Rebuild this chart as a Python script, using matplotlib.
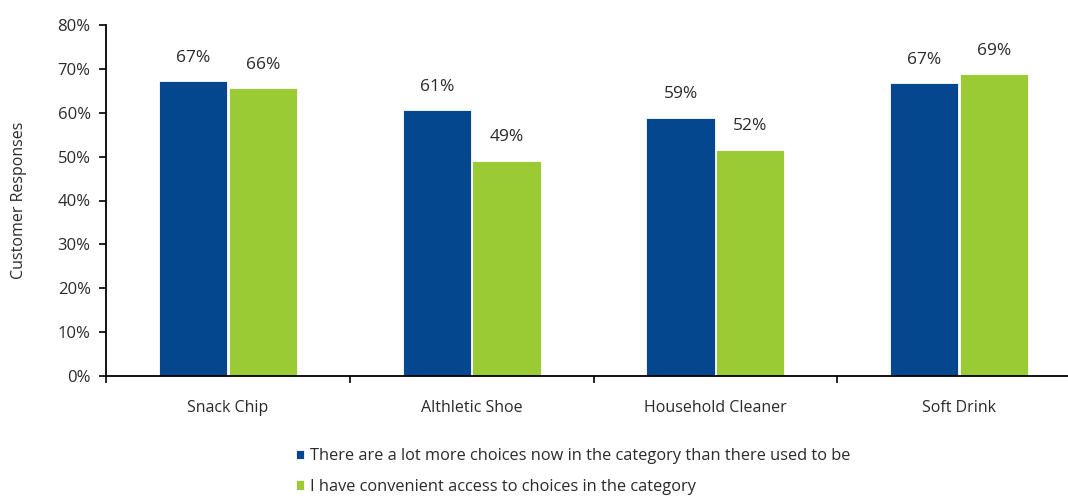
import numpy as np
import matplotlib

matplotlib.use('Agg')

import matplotlib.pyplot as plt
from matplotlib.ticker import PercentFormatter

# survey results, percent of customers agreeing
categories = ["Snack Chip", "Althletic Shoe", "Household Cleaner", "Soft Drink"]
more_choices = [67.2, 60.6, 58.8, 66.7]
convenient_access = [65.6, 49.0, 51.6, 68.8]
series_names = ["There are a lot more choices now in the category than there used to be",
                "I have convenient access to choices in the category"]

blue = "#05478f"
green = "#9bcb34"
text_col = '#2a2a2a'

plt.rcParams['font.family'] = ['Open Sans', 'DejaVu Sans']

fig = plt.figure(figsize=(10.68, 4.96), dpi=100)
# axes runs past the right edge of the figure, so the last category is cut off
ax = fig.add_axes([106 / 1068, 120 / 496, 975 / 1068, 351 / 496])

x = np.arange(len(categories))
width = 0.28
off = 0.143
b1 = ax.bar(x - off, more_choices, width, color=blue, edgecolor='white', linewidth=0.6,
            label=series_names[0])
b2 = ax.bar(x + off, convenient_access, width, color=green, edgecolor='white', linewidth=0.6,
            label=series_names[1])

# value labels above each bar
for bars in (b1, b2):
    for rect in bars:
        h = rect.get_height()
        ax.annotate("%d%%" % round(h), (rect.get_x() + rect.get_width() / 2, h),
                    xytext=(0, 17), textcoords='offset points',
                    ha='center', va='center', fontsize=12.5, color=text_col)

ax.set_xlim(-0.5, 3.5)
ax.set_ylim(0, 80)
ax.set_yticks(np.arange(0, 81, 10))
ax.yaxis.set_major_formatter(PercentFormatter(decimals=0))

# category boundaries get the ticks, names sit in between
ax.set_xticks(np.arange(-0.5, 4, 1))
ax.set_xticklabels([])
ax.set_xticks(x, minor=True)
ax.set_xticklabels(categories, minor=True)
ax.tick_params(axis='x', which='minor', length=0, pad=17, labelsize=11.5, labelcolor=text_col)
ax.tick_params(axis='x', which='major', direction='out', length=5, width=1.2)
ax.tick_params(axis='y', direction='out', length=5, width=1.2, labelsize=12,
               labelcolor=text_col, pad=6)

for side in ['top', 'right']:
    ax.spines[side].set_visible(False)
for side in ['left', 'bottom']:
    ax.spines[side].set_linewidth(1.3)

ax.set_ylabel("Customer Responses", fontsize=11.5, color=text_col, labelpad=22)

fig.legend(handles=[b1, b2], loc='upper left', bbox_to_anchor=(296 / 1068, 48 / 496),
           frameon=False, fontsize=11.8, handlelength=0.5, handleheight=0.5,
           handletextpad=0.35, labelspacing=0.9, borderpad=0, borderaxespad=0,
           labelcolor=text_col)

fig.savefig("out.png", dpi=100)
